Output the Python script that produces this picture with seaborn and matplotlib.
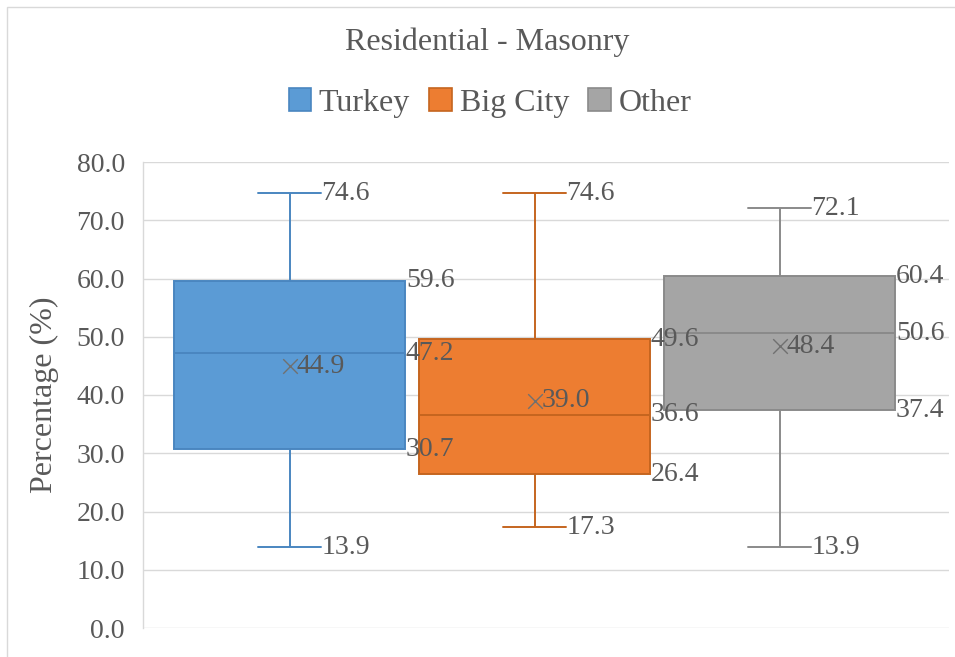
import numpy as np
import pandas as pd
import seaborn as sns
import matplotlib
matplotlib.use("Agg")
import matplotlib.pyplot as plt
from matplotlib.patches import Patch, Rectangle

# ---- data ----
groups = ["Turkey", "Big City", "Other"]
mins = [13.9, 17.3, 13.9]
q1s = [30.7, 26.4, 37.4]
medians = [47.2, 36.6, 50.6]
q3s = [59.6, 49.6, 60.4]
maxs = [74.6, 74.6, 72.1]
means = [44.9, 39.0, 48.4]
yticks = [0, 10, 20, 30, 40, 50, 60, 70, 80]

fills = ["#5B9BD5", "#ED7D31", "#A5A5A5"]
edges = ["#4A86C0", "#C5651F", "#8A8A8A"]
txt = "#595959"

rows = []
for g, a, b, c, d, e in zip(groups, mins, q1s, medians, q3s, maxs):
    for v in (a, b, c, d, e):
        rows.append({"group": g, "value": v})
df = pd.DataFrame(rows)

sns.set_style("white")
plt.rcParams["font.family"] = ["Liberation Serif", "DejaVu Serif"]
FS = 20
FS_BIG = 23

fig = plt.figure(figsize=(9.55, 6.57), dpi=100)
W, H = 955, 657
ax = fig.add_axes([143 / W, 1 - 628 / H, (949 - 143) / W, (628 - 162) / H])

BW = 0.94
for g, fc, ec in zip(groups, fills, edges):
    sns.boxplot(data=df[df.group == g], x="group", y="value", order=groups,
                color=fc, linecolor=ec, width=BW, whis=(0, 100),
                showfliers=False, linewidth=1.4, saturation=1, ax=ax,
                capwidths=0.26)

pos = np.arange(len(groups))
ax.scatter(pos, means, marker="x", s=110, color="#707070", linewidths=1.0, zorder=5)

for i in range(len(groups)):
    cx = pos[i]
    ax.text(cx + 0.13, maxs[i], f"{maxs[i]:.1f}", ha="left", va="center",
            fontsize=FS, color=txt, zorder=6)
    ax.text(cx + 0.13, mins[i], f"{mins[i]:.1f}", ha="left", va="center",
            fontsize=FS, color=txt, zorder=6)
    for v in (q3s[i], medians[i], q1s[i]):
        ax.text(cx + BW / 2 + 0.005, v, f"{v:.1f}", ha="left", va="center",
                fontsize=FS, color=txt, zorder=6)
    ax.text(cx + 0.03, means[i], f"{means[i]:.1f}", ha="left", va="center",
            fontsize=FS, color=txt, zorder=6)

ax.set_xlim((143 - 289.5) / 245, (949 - 779.5) / 245 + 2)
ax.set_ylim(0, 80)
ax.set_yticks(yticks)
ax.set_yticklabels([f"{t:.1f}" for t in yticks], fontsize=FS, color=txt)
ax.set_xticks([])
ax.set_xlabel("")
ax.set_ylabel("Percentage (%)", fontsize=FS_BIG, color=txt, labelpad=13)
ax.tick_params(axis="y", length=0, pad=13)
ax.grid(axis="y", color="#d9d9d9", linewidth=1.0)
ax.set_axisbelow(True)
for s in ["top", "right", "bottom"]:
    ax.spines[s].set_visible(False)
ax.spines["left"].set_color("#d9d9d9")
ax.spines["left"].set_linewidth(1.0)

fig.text(487 / W, 1 - 42 / H, "Residential - Masonry", ha="center", va="center",
         fontsize=FS_BIG, color=txt)

handles = [Patch(facecolor=f, edgecolor=e, linewidth=1.2) for f, e in zip(fills, edges)]
fig.legend(handles, groups, loc="center", bbox_to_anchor=(490 / W, 1 - 103 / H),
           ncol=3, frameon=False, fontsize=FS_BIG, labelcolor=txt,
           handlelength=0.7, handleheight=0.7, handletextpad=0.25,
           columnspacing=0.6, borderpad=0)

fig.add_artist(Rectangle((7 / W, -0.05), 1.1, 1.05 - 7 / H, transform=fig.transFigure,
                         fill=False, edgecolor="#d9d9d9", linewidth=1.0))

fig.savefig("out.png", dpi=100)
